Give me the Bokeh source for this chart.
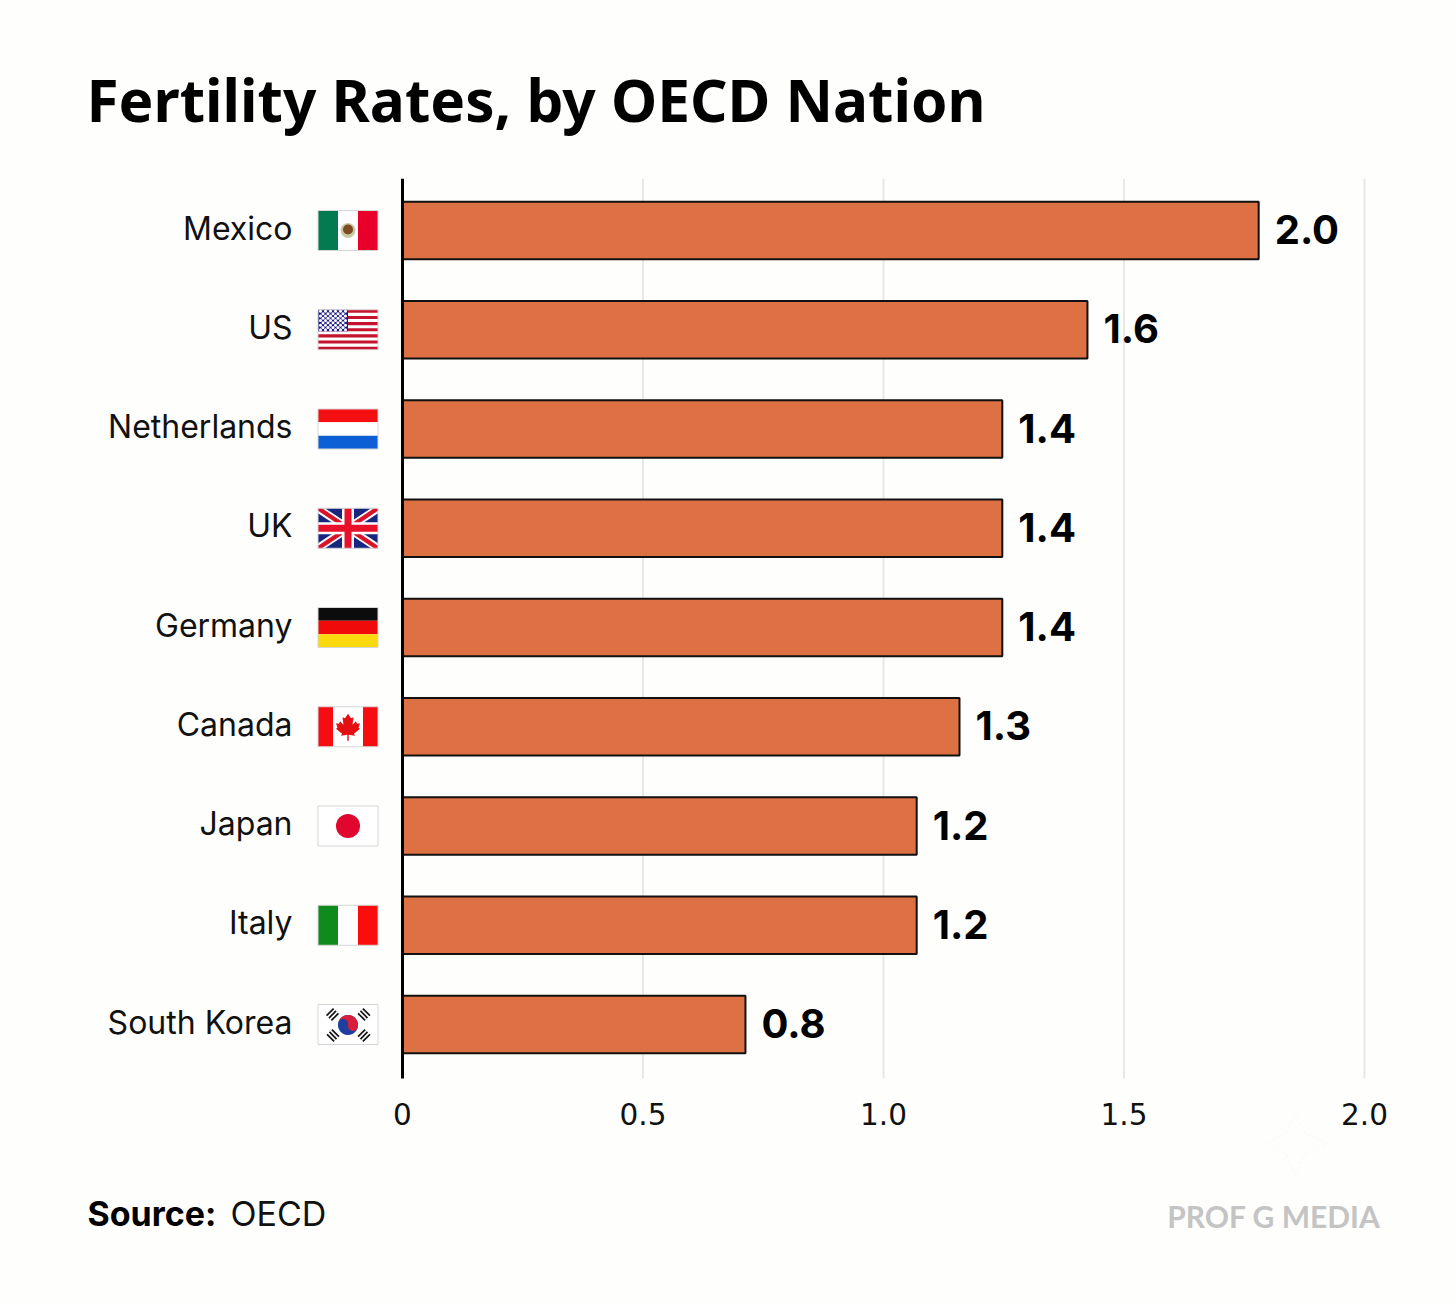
import numpy as np
from bokeh.embed import file_html
from bokeh.models import (ColumnDataSource, FixedTicker, Label, PolyAnnotation, Range1d, Title)
from bokeh.plotting import figure
from bokeh.resources import INLINE
from bokeh.core.properties import value

countries = ["South Korea", "Italy", "Japan", "Canada", "Germany", "UK", "Netherlands", "US", "Mexico"]
bar_values = [0.713, 1.069, 1.069, 1.158, 1.247, 1.247, 1.247, 1.424, 1.780]
value_labels = ["0.8", "1.2", "1.2", "1.3", "1.4", "1.4", "1.4", "1.6", "2.0"]
x_ticks = [0, 0.5, 1.0, 1.5, 2.0]
x_tick_labels = ["0", "0.5", "1.0", "1.5", "2.0"]

TITLE = "Fertility Rates, by OECD Nation"
BG = "#fefefd"
BAR = "#dd7143"
LABEL_FONT = "Inter"

PX_X = 481.0      # pixels per unit on x
PX_Y = 99.25      # pixels per category
W_PAGE, H_PAGE = 1456, 1304
PLOT_L, PLOT_T, PLOT_B = 310, 178, 1078
ZERO_X, TOP_Y = 402, 230


def dx(px):
    return (px - ZERO_X) / PX_X


def dy(py):
    return 8 + (TOP_Y - py) / PX_Y


p = figure(
    width=W_PAGE, height=H_PAGE, output_backend="svg", toolbar_location=None,
    x_range=Range1d(dx(0), dx(W_PAGE)), y_range=Range1d(dy(H_PAGE), dy(PLOT_T)),
    min_border_left=0, min_border_right=0, min_border_top=PLOT_T, min_border_bottom=0,
    background_fill_color=BG, border_fill_color=BG, outline_line_color=None,
)
p.title = Title(text=TITLE, align="left", offset=86, standoff=79,
                text_font="Noto Sans", text_font_size="58.5px", text_font_style="bold", text_color="#000000")

# axes
p.xaxis.fixed_location = dy(PLOT_B)
p.xaxis.ticker = FixedTicker(ticks=x_ticks)
p.xaxis.major_label_overrides = dict(zip(x_ticks, x_tick_labels))
p.xaxis.axis_line_color = None
p.xaxis.major_tick_line_color = None
p.xaxis.minor_tick_line_color = None
p.xaxis.major_label_text_font = "DejaVu Sans"
p.xaxis.major_label_text_font_size = "29.5px"
p.xaxis.major_label_text_color = "#111111"
p.xaxis.major_label_standoff = 18

# the names sit a little above the centre of their bar
NAME_LIFT = 2.5 / PX_Y
name_ticks = [k + NAME_LIFT for k in range(len(countries))]
p.yaxis.fixed_location = dx(PLOT_L)
p.yaxis.ticker = FixedTicker(ticks=name_ticks)
p.yaxis.major_label_overrides = dict(zip(name_ticks, countries))
p.yaxis.axis_line_color = None
p.yaxis.major_tick_line_color = None
p.yaxis.minor_tick_line_color = None
p.yaxis.major_label_text_font = LABEL_FONT
p.yaxis.major_label_text_font_size = "32px"
p.yaxis.major_label_text_color = "#111111"
p.yaxis.major_label_standoff = 12

# grid lines stop at the axis, so they are drawn as segments at the tick values
p.ygrid.grid_line_color = None
p.xgrid.grid_line_color = None
grid_x = x_ticks[1:]
p.segment(x0=grid_x, x1=grid_x, y0=[dy(PLOT_B)] * len(grid_x), y1=[dy(PLOT_T)] * len(grid_x),
          line_color="#e8e8e8", line_width=2)

# bars + labels
ys = list(range(len(countries)))
src = ColumnDataSource(dict(y=ys, v=bar_values, t=value_labels))
p.hbar(y="y", left=0, right="v", height=57.5 / PX_Y, source=src,
       fill_color=BAR, line_color="#111111", line_width=2)
p.text(x="v", y="y", text="t", source=src, x_offset=16, y_offset=-1, text_align="left", text_baseline="middle",
       text_font=value("Inter"), text_font_style="bold", text_font_size="40px", text_color="#000000")

p.segment(x0=[0], x1=[0], y0=[dy(PLOT_B)], y1=[dy(PLOT_T)], line_color="#000000", line_width=3)

# flags: shapes given in a 60x40 flag box
FLAG_X, FLAG_W, FLAG_H = 317.5, 60, 40
polys = dict(xs=[], ys=[], c=[])


def fx(px):
    return (FLAG_X - ZERO_X + np.asarray(px, float)) / PX_X


def fy(i, py):
    return i + (FLAG_H / 2 - np.asarray(py, float)) / PX_Y


def poly(i, pts, c):
    a = np.array(pts, float)
    polys["xs"].append(list(fx(a[:, 0])))
    polys["ys"].append(list(fy(i, a[:, 1])))
    polys["c"].append(c)


def box(i, x0, y0, x1, y1, c):
    poly(i, [(x0, y0), (x1, y0), (x1, y1), (x0, y1)], c)


def rot_box(i, cx, cy, l, t, ang, c):
    u = np.array([np.cos(ang), np.sin(ang)]); v = np.array([-u[1], u[0]])
    c0 = np.array([cx, cy])
    poly(i, [c0 - u * l / 2 - v * t / 2, c0 + u * l / 2 - v * t / 2, c0 + u * l / 2 + v * t / 2, c0 - u * l / 2 + v * t / 2], c)


idx = {n: k for k, n in enumerate(countries)}
# Mexico
i = idx["Mexico"]
box(i, 0, 0, 20, 40, "#047a50"); box(i, 20, 0, 40, 40, "#ffffff"); box(i, 40, 0, 60, 40, "#e8002a")
# US
i = idx["US"]
box(i, 0, 0, 60, 40, "#ffffff")
for s in range(0, 13, 2):
    box(i, 0, s * 40 / 13, 60, (s + 1) * 40 / 13, "#c5122e")
box(i, 0, 0, 30, 21.5, "#1d1d86")
# Netherlands
i = idx["Netherlands"]
box(i, 0, 0, 60, 13.3, "#f40f12"); box(i, 0, 13.3, 60, 26.7, "#ffffff"); box(i, 0, 26.7, 60, 40, "#0d5fd6")
# UK
i = idx["UK"]
box(i, 0, 0, 60, 40, "#17267f")
for flip in (False, True):
    W = [(0, 0), (7, 0), (60, 35), (60, 40), (53, 40), (0, 5)]
    R = [(0, 0), (4, 0), (60, 37.5), (60, 40), (56, 40), (0, 2.5)]
    for pts, c in ((W, "#ffffff"), (R, "#d8142c")):
        poly(i, [(60 - x, y) for x, y in pts] if flip else pts, c)
box(i, 24, 0, 36, 40, "#ffffff"); box(i, 0, 14, 60, 26, "#ffffff")
box(i, 26.5, 0, 33.5, 40, "#e8102a"); box(i, 0, 16.5, 60, 23.5, "#e8102a")
# Germany
i = idx["Germany"]
box(i, 0, 0, 60, 13.3, "#0c0c0c"); box(i, 0, 13.3, 60, 26.7, "#f00a0a"); box(i, 0, 26.7, 60, 40, "#fbd90c")
# Canada
i = idx["Canada"]
box(i, 0, 0, 15, 40, "#f50d12"); box(i, 15, 0, 45, 40, "#ffffff"); box(i, 45, 0, 60, 40, "#f50d12")
half = [(0, 7), (3, 11.5), (5.5, 10.5), (4.5, 18), (8, 14.5), (9, 17), (12, 16.5), (10.5, 21), (12, 22),
        (6, 27), (7, 29), (0.7, 28), (0.7, 34)]
poly(i, [(30 + a, b) for a, b in half] + [(30 - a, b) for a, b in reversed(half)], "#e30f12")
# Japan
i = idx["Japan"]
box(i, 0, 0, 60, 40, "#ffffff")
# Italy
i = idx["Italy"]
box(i, 0, 0, 20, 40, "#0f8a1c"); box(i, 20, 0, 40, 40, "#ffffff"); box(i, 40, 0, 60, 40, "#fb0d0d")
# South Korea
i = idx["South Korea"]
box(i, 0, 0, 60, 40, "#ffffff")
t = np.linspace(0, 2 * np.pi, 60)
R_C = 10
poly(i, np.c_[30 + R_C * np.cos(t), 20.5 + R_C * np.sin(t)], "#1f3f9e")
tilt = np.deg2rad(12)
arc = np.linspace(np.pi, 2 * np.pi, 30) + tilt
outer = np.c_[R_C * np.cos(arc), R_C * np.sin(arc)]
e = np.array([np.cos(tilt), np.sin(tilt)])
a1 = np.linspace(tilt, tilt + np.pi, 16)
s1 = np.c_[R_C / 2 * e[0] + R_C / 2 * np.cos(a1), R_C / 2 * e[1] + R_C / 2 * np.sin(a1)]
a2 = np.linspace(tilt, tilt - np.pi, 16)
s2 = np.c_[-R_C / 2 * e[0] + R_C / 2 * np.cos(a2), -R_C / 2 * e[1] + R_C / 2 * np.sin(a2)]
red = np.vstack([outer, s1, s2]) + np.array([30, 20.5])
poly(i, red, "#d81e3a")
for cx, cy, ang in ((14.5, 10, np.pi / 4 * -1), (46, 10, np.pi / 4), (15, 31, np.pi / 4), (46, 31, -np.pi / 4)):
    u = np.array([-np.sin(ang), np.cos(ang)])
    for k in (-1, 0, 1):
        rot_box(i, cx + u[0] * k * 3.4, cy + u[1] * k * 3.4, 10, 1.7, ang, "#151515")

p.patches("xs", "ys", source=ColumnDataSource(polys), fill_color="c", line_color=None)

# details drawn at flag scale
flag_ys = list(range(len(countries)))
p.rect(x=[float(fx(30))] * len(flag_ys), y=flag_ys, width=FLAG_W / PX_X, height=FLAG_H / PX_Y,
       fill_color=None, line_color="#d6d6d6", line_width=1)
p.scatter(x=[float(fx(30))], y=[idx["Japan"]], size=24, fill_color="#e0062e", line_color=None)
p.scatter(x=[float(fx(30))], y=[idx["Mexico"]], size=15, fill_color="#c9c9a6", line_color=None)
p.scatter(x=[float(fx(30))], y=[float(fy(idx["Mexico"], 19))], size=10, fill_color="#7d4a22", line_color=None)
star_x, star_y = [], []
for r in range(9):
    for c in range(6 if r % 2 == 0 else 5):
        star_x.append(float(fx(2.5 + c * 5 + (2.5 if r % 2 else 0))))
        star_y.append(float(fy(idx["US"], 1.6 + r * 2.3)))
p.scatter(star_x, star_y, size=3, fill_color="#ffffff", line_color=None)


def page_label(x, baseline, text, **kw):
    p.add_layout(Label(x=dx(x), y=dy(baseline), x_units="data", y_units="data",
                       text=text, text_baseline="alphabetic", **kw))


page_label(87, 1213, "Source:", text_font="Inter", text_font_style="bold", text_font_size="34px", text_color="#000000")
page_label(230, 1213, "OECD", text_font="Inter", text_font_size="34px", text_color="#111111")
page_label(1380, 1215, "PROF G MEDIA", text_align="right", text_font="Lato",
           text_font_style="bold", text_font_size="30px", text_color="#c4c4c4")

# faint four-pointed mark above the watermark
mark_px = [(1295, 1113), (1305, 1133), (1327, 1143), (1305, 1153), (1295, 1175), (1285, 1153), (1265, 1143), (1285, 1133)]
p.add_layout(PolyAnnotation(xs=[dx(a) for a, _ in mark_px], ys=[dy(b) for _, b in mark_px],
                            xs_units="data", ys_units="data", fill_color=None, fill_alpha=0,
                            line_color="#efefed", line_width=1.5, line_dash="2 3"))

open("out.html", "w").write(file_html(p, INLINE))
